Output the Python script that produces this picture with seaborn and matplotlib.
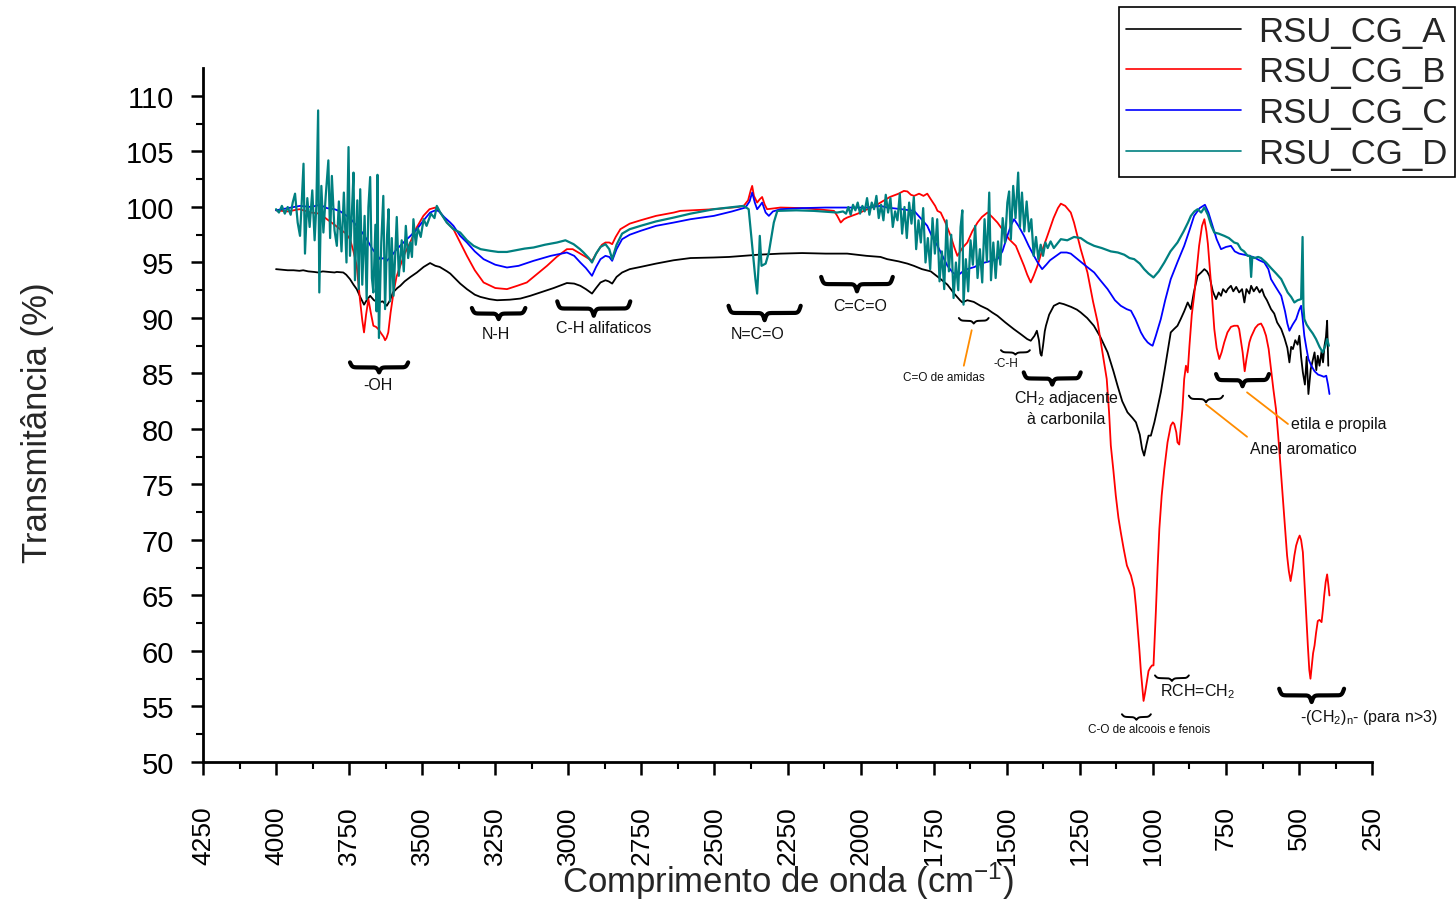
import numpy as np
import pandas as pd
import matplotlib
matplotlib.use("Agg")
import matplotlib.pyplot as plt
import seaborn as sns

# ---- data (wavenumber cm-1, transmittance %) ----
wn_a = [4000, 3980, 3960, 3940, 3920, 3907, 3890, 3870, 3856, 3840, 3820, 3800, 3792, 3770,
        3760, 3747, 3735, 3724, 3712, 3699, 3690, 3678, 3665, 3650, 3635, 3621, 3610, 3600,
        3585, 3575, 3560, 3540, 3518, 3495, 3473, 3455, 3440, 3415, 3404, 3370, 3347, 3320,
        3301, 3270, 3244, 3200, 3164, 3130, 3096, 3050, 3005, 2980, 2959, 2940, 2919, 2905,
        2890, 2873, 2862, 2850, 2835, 2816, 2790, 2753, 2700, 2640, 2582, 2503, 2450, 2400,
        2350, 2274, 2200, 2120, 2046, 1980, 1932, 1909, 1870, 1840, 1818, 1790, 1760, 1726,
        1703, 1680, 1660, 1652, 1635, 1613, 1590, 1566, 1550, 1532, 1505, 1476, 1450, 1430,
        1418, 1405, 1397, 1390, 1385, 1381, 1376, 1370, 1366, 1355, 1339, 1320, 1305, 1280,
        1260, 1247, 1225, 1202, 1180, 1155, 1135, 1121, 1105, 1087, 1070, 1058, 1045, 1037,
        1030, 1022, 1015, 1007, 995, 985, 973, 960, 950, 939, 928, 916, 905, 893, 881, 870,
        860, 847, 835, 824, 815, 807, 795, 784, 775, 767, 760, 750, 744, 733, 725, 715, 705,
        695, 687, 680, 670, 664, 655, 645, 635, 627, 619, 610, 596, 585, 575, 561, 550, 540,
        533, 527, 521, 513, 505, 499, 493, 487, 480, 474, 468, 460, 453, 447, 441, 436, 430,
        423, 418, 413, 408, 404, 400]
t_a = [94.4, 94.35, 94.3, 94.3, 94.25, 94.3, 94.2, 94.15, 94.1, 94.2, 94.15, 94.1, 94.15, 94.1,
       93.9, 93.5, 93.0, 92.6, 91.9, 91.2, 91.6, 92.0, 91.6, 91.4, 91.5, 91.1, 91.6, 92.3,
       92.7, 92.9, 93.3, 93.7, 94.1, 94.6, 94.95, 94.7, 94.6, 94.2, 94.0, 93.1, 92.6, 92.1,
       91.9, 91.7, 91.6, 91.65, 91.75, 92.0, 92.3, 92.7, 93.15, 93.1, 92.9, 92.6, 92.2, 92.7,
       93.2, 93.4, 93.3, 93.1, 93.7, 94.1, 94.4, 94.6, 94.9, 95.2, 95.4, 95.45, 95.5, 95.6,
       95.7, 95.8, 95.85, 95.8, 95.8, 95.6, 95.5, 95.3, 95.1, 94.9, 94.7, 94.4, 94.2, 93.5,
       93.0, 92.2, 91.6, 91.4, 91.6, 91.45, 91.1, 90.8, 90.5, 90.2, 89.6, 89.0, 88.5, 88.1,
       87.95, 88.4, 88.85, 88.0, 86.8, 86.6, 87.5, 88.8, 89.3, 90.3, 91.1, 91.35, 91.25, 91.0,
       90.75, 90.5, 90.0, 89.3, 88.3, 86.9, 85.2, 83.9, 82.5, 81.5, 81.0, 80.6, 79.5, 78.2,
       77.6, 78.6, 79.4, 79.4, 80.6, 81.8, 83.3, 85.3, 86.9, 88.7, 89.0, 89.3, 89.9, 90.6, 91.4, 90.8,
       92.3, 93.8, 94.1, 94.4, 94.2, 93.8, 92.4, 91.7, 92.3, 92.0, 92.6, 92.3, 92.6, 92.9, 92.4, 92.8, 92.3,
       92.6, 91.4, 92.6, 92.2, 92.9, 92.4, 92.8, 92.3, 92.6, 92.0, 91.6, 90.8, 90.4, 89.6, 89.0, 88.2, 87.3,
       86.0, 87.4, 87.2, 88.0, 87.6, 88.4, 86.5, 85.1, 84.0, 86.5, 83.15, 85.4, 86.2, 86.9, 85.3, 86.6, 85.7,
       87.0, 86.0, 87.5, 88.3, 89.75, 85.7]

wn_b = [4000, 3960, 3920, 3880, 3850, 3826, 3800, 3781, 3760, 3747, 3735, 3724, 3713, 3705,
        3699, 3692, 3684, 3676, 3667, 3658, 3650, 3640, 3632, 3627, 3622, 3616, 3608, 3598,
        3588, 3575, 3560, 3541, 3520, 3496, 3475, 3455, 3438, 3415, 3393, 3370, 3347, 3320,
        3290, 3250, 3210, 3175, 3142, 3110, 3073, 3040, 3005, 2985, 2959, 2940, 2919, 2900,
        2885, 2873, 2860, 2850, 2838, 2822, 2790, 2753, 2700, 2639, 2617, 2502, 2420, 2400,
        2385, 2376, 2371, 2365, 2354, 2345, 2337, 2328, 2320, 2274, 2200, 2150, 2091, 2080,
        2068, 2057, 2046, 2010, 1977, 1950, 1932, 1900, 1870, 1852, 1840, 1828, 1817, 1800,
        1785, 1772, 1760, 1745, 1737, 1726, 1710, 1692, 1680, 1669, 1652, 1635, 1618, 1600,
        1585, 1566, 1550, 1532, 1510, 1492, 1469, 1455, 1441, 1430, 1418, 1408, 1395, 1380,
        1361, 1340, 1325, 1315, 1300, 1281, 1270, 1247, 1224, 1205, 1189, 1170, 1158, 1150,
        1144, 1135, 1127, 1118, 1110, 1100, 1089, 1075, 1064, 1058, 1052, 1046, 1041, 1036,
        1032, 1027, 1021, 1015, 1009, 1003, 998, 994, 990, 984, 978, 970, 961, 950, 939, 932,
        927, 920, 916, 910, 905, 899, 893, 887, 881, 875, 867, 859, 850, 842, 832, 824, 817,
        812, 807, 798, 790, 782, 773, 765, 756, 745, 733, 722, 710, 705, 698, 693, 686, 680,
        670, 664, 650, 640, 630, 622, 613, 604, 596, 588, 579, 572, 567, 558, 550, 545, 541,
        535, 529, 522, 516, 510, 503, 498, 493, 487, 482, 476, 470, 465, 461, 457, 452, 447,
        442, 436, 430, 423, 418, 414, 409, 404, 400, 396]
t_b = [99.7, 99.6, 99.8, 99.5, 99.4, 98.9, 98.4, 98.0, 97.6, 97.1, 96.0, 94.7, 91.7, 89.8,
       88.7, 90.3, 91.7, 90.5, 89.3, 89.2, 89.0, 88.6, 88.3, 88.0, 88.2, 88.7, 90.5, 92.3,
       93.7, 94.7, 95.8, 96.8, 98.1, 99.2, 99.8, 99.95, 99.5, 98.6, 98.0, 96.8, 95.6, 94.3,
       93.2, 92.7, 92.6, 92.9, 93.2, 93.9, 94.7, 95.5, 96.2, 96.2, 95.8, 95.5, 95.15, 96.0,
       96.6, 96.8, 96.8, 96.65, 97.3, 98.0, 98.5, 98.8, 99.2, 99.5, 99.65, 99.8, 100.0, 100.1,
       100.6, 101.5, 101.9, 101.0, 100.4, 100.7, 100.9, 100.2, 99.8, 99.95, 99.9, 99.8, 99.65, 99.2,
       98.6, 98.9, 99.05, 99.4, 99.8, 100.1, 100.4, 100.9, 101.2, 101.45, 101.4, 101.1, 101.0, 101.2,
       101.0, 101.2, 100.7, 100.1, 99.65, 99.5, 98.6, 97.4, 96.4, 95.6, 96.3, 96.8, 97.8, 98.6,
       99.1, 99.5, 99.1, 98.6, 97.8, 97.1, 96.5, 95.6, 94.7, 93.9, 93.2, 93.8, 94.7, 96.0,
       97.4, 99.0, 99.9, 100.3, 100.1, 99.5, 98.6, 96.2, 94.1, 91.5, 89.6, 86.5, 84.5, 81.5,
       78.5, 76.2, 74.0, 72.0, 70.7, 69.2, 67.7, 66.8, 65.6, 64.0, 62.0, 60.0, 58.1, 56.6,
       55.5, 56.2, 57.2, 58.2, 58.5, 58.7, 58.7, 61.0, 63.5, 67.5, 71.0, 74.0, 76.4, 78.8, 80.3, 80.6,
       80.45, 79.7, 78.8, 78.6, 80.0, 81.8, 84.5, 85.7, 85.1, 87.5, 90.3, 92.0, 94.4, 96.5, 98.3, 98.9, 97.8,
       96.7, 95.0, 92.0, 89.0, 87.3, 86.3, 86.9, 87.8, 88.7, 89.2, 89.3, 89.3, 89.0, 87.8, 86.9, 85.2, 86.3,
       87.8, 88.3, 89.1, 89.4, 89.5, 89.1, 88.4, 87.2, 85.4, 83.6, 81.8, 79.6, 77.9, 74.7, 71.9, 70.0, 68.6,
       67.2, 66.3, 67.4, 68.6, 69.5, 70.1, 70.4, 70.0, 68.9, 66.5, 63.5, 60.5, 58.3, 57.5, 58.5, 59.8, 60.5,
       61.6, 62.7, 62.8, 62.6, 63.8, 65.0, 66.2, 66.9, 66.0, 65.0]

wn_c = [4000, 3960, 3918, 3880, 3850, 3826, 3800, 3780, 3758, 3740, 3724, 3705, 3690, 3670,
        3655, 3644, 3632, 3621, 3605, 3587, 3564, 3540, 3518, 3495, 3473, 3455, 3444, 3425,
        3404, 3393, 3370, 3347, 3320, 3290, 3250, 3210, 3170, 3119, 3060, 3005, 2980, 2959,
        2940, 2919, 2905, 2890, 2873, 2860, 2850, 2835, 2816, 2790, 2753, 2700, 2639, 2582,
        2502, 2440, 2394, 2380, 2371, 2362, 2354, 2345, 2337, 2325, 2314, 2300, 2274, 2200,
        2120, 2046, 1980, 1932, 1909, 1860, 1817, 1795, 1772, 1755, 1737, 1720, 1703, 1685,
        1669, 1650, 1635, 1610, 1589, 1560, 1532, 1515, 1498, 1485, 1475, 1460, 1441, 1425,
        1407, 1392, 1379, 1365, 1352, 1339, 1315, 1295, 1281, 1258, 1230, 1201, 1180, 1155,
        1130, 1110, 1090, 1075, 1060, 1041, 1030, 1018, 1008, 1001, 990, 973, 958, 939, 915,
        893, 875, 859, 840, 822, 810, 796, 782, 767, 750, 733, 720, 705, 687, 670, 653, 636,
        619, 605, 596, 580, 561, 548, 540, 533, 522, 510, 500, 493, 488, 482, 475, 468, 458,
        447, 435, 424, 415, 407, 401, 396]
t_c = [99.7, 99.9, 100.1, 100.0, 100.2, 99.9, 99.8, 99.6, 99.2, 98.8, 98.3, 97.7, 97.1, 96.2,
       95.7, 95.3, 95.4, 95.15, 95.6, 96.2, 96.8, 97.4, 98.0, 98.8, 99.5, 99.7, 99.65, 99.1,
       98.6, 98.3, 97.4, 96.8, 96.0, 95.3, 94.8, 94.55, 94.7, 95.15, 95.6, 95.9, 95.6, 95.0,
       94.5, 93.8, 94.6, 95.3, 95.6, 95.5, 95.15, 96.2, 97.1, 97.5, 97.85, 98.3, 98.6, 98.9,
       99.2, 99.6, 99.95, 100.5, 101.3, 100.4, 99.8, 100.1, 100.4, 99.5, 99.2, 99.6, 99.8, 99.9,
       99.95, 99.95, 99.95, 100.1, 99.95, 99.8, 99.65, 99.0, 98.3, 97.3, 96.5, 95.6, 94.7, 94.1,
       93.8, 94.2, 94.4, 94.6, 94.9, 95.1, 95.3, 96.0, 97.4, 98.4, 98.9, 98.3, 97.4, 96.5,
       95.6, 94.9, 94.4, 94.8, 95.2, 95.45, 95.9, 95.9, 95.8, 95.3, 94.7, 94.1, 93.4, 92.6,
       91.6, 91.1, 90.8, 90.65, 89.9, 88.7, 88.2, 87.8, 87.6, 87.5, 88.4, 89.9, 91.6, 93.5, 95.1,
       96.5, 97.9, 99.2, 99.9, 100.2, 99.5, 98.3, 97.1, 96.2, 96.4, 96.5, 96.0, 95.8, 95.7, 95.6, 95.45, 95.2,
       95.0, 94.4, 93.5, 92.8, 92.0, 90.6, 89.5, 88.85, 89.4, 89.9, 90.7, 91.1, 90.0, 88.4, 87.3, 86.3, 85.7,
       85.2, 84.9, 84.8, 84.7, 84.8, 84.0, 83.15]

wn_d = [4000, 3990, 3980, 3970, 3960, 3950, 3943, 3935, 3926, 3918, 3912, 3906, 3901, 3893,
        3885, 3876, 3868, 3862, 3856, 3852, 3845, 3838, 3830, 3821, 3815, 3809, 3800, 3792,
        3785, 3776, 3768, 3759, 3752, 3747, 3740, 3735, 3730, 3722, 3717, 3712, 3705, 3697,
        3690, 3684, 3678, 3672, 3667, 3660, 3656, 3653, 3648, 3640, 3633, 3627, 3620, 3615,
        3610, 3604, 3598, 3592, 3587, 3580, 3570, 3563, 3556, 3548, 3541, 3535, 3530, 3522,
        3515, 3505, 3495, 3485, 3470, 3458, 3450, 3438, 3416, 3393, 3370, 3347, 3324, 3300,
        3267, 3240, 3210, 3180, 3150, 3119, 3080, 3039, 3010, 2982, 2960, 2948, 2930, 2919,
        2905, 2890, 2873, 2860, 2850, 2835, 2816, 2790, 2753, 2700, 2639, 2582, 2502, 2400,
        2383, 2371, 2360, 2354, 2348, 2345, 2339, 2325, 2314, 2297, 2285, 2220, 2160, 2080,
        2060, 2050, 2042, 2034, 2026, 2018, 2010, 2002, 1994, 1986, 1978, 1970, 1962, 1954,
        1946, 1938, 1930, 1922, 1914, 1906, 1898, 1890, 1882, 1874, 1866, 1858, 1850, 1842,
        1834, 1826, 1818, 1810, 1802, 1794, 1786, 1778, 1770, 1762, 1754, 1746, 1738, 1730,
        1722, 1714, 1706, 1698, 1690, 1682, 1674, 1666, 1658, 1652, 1648, 1640, 1632, 1624,
        1616, 1608, 1600, 1592, 1584, 1576, 1568, 1560, 1554, 1546, 1538, 1530, 1522, 1514,
        1506, 1498, 1492, 1486, 1478, 1470, 1461, 1455, 1448, 1440, 1432, 1424, 1416, 1408,
        1400, 1392, 1384, 1376, 1368, 1360, 1350, 1339, 1315, 1293, 1270, 1247, 1225, 1201,
        1175, 1144, 1120, 1098, 1080, 1064, 1045, 1030, 1015, 998, 980, 961, 940, 916, 895,
        880, 870, 858, 847, 835, 824, 812, 800, 790, 775, 756, 740, 722, 710, 699, 688, 676,
        668, 664, 660, 653, 640, 630, 613, 596, 578, 561, 550, 539, 527, 516, 505, 493, 488,
        485, 482, 474, 464, 453, 442, 430, 419, 410, 404, 398]
t_d = [99.8, 99.5, 100.1, 99.4, 100.0, 99.3, 100.4, 101.2, 98.6, 97.4, 100.5, 103.9, 95.8, 100.8,
       98.2, 101.5, 97.0, 100.2, 108.7, 92.3, 101.9, 97.7, 101.0, 104.2, 97.2, 102.8, 97.9, 96.5,
       100.5, 96.0, 101.3, 95.0, 105.4, 95.6, 99.8, 103.1, 93.4, 100.6, 92.6, 101.6, 93.0, 99.2,
       91.7, 100.0, 102.7, 93.6, 92.3, 98.4, 90.6, 102.9, 88.2, 96.8, 101.0, 90.8, 97.5, 99.8,
       91.5, 97.2, 92.0, 96.0, 99.1, 93.8, 97.0, 94.2, 98.3, 95.4, 96.8, 95.5, 98.9, 96.6,
       98.1, 97.3, 98.9, 98.3, 99.4, 99.0, 100.1, 99.5, 98.6, 98.0, 97.7, 97.0, 96.5, 96.2,
       96.05, 95.95, 95.95, 96.1, 96.25, 96.35, 96.6, 96.8, 97.0, 96.65, 96.2, 95.9, 95.4, 95.0,
       95.8, 96.4, 96.65, 96.2, 95.3, 96.6, 97.6, 98.0, 98.3, 98.7, 99.05, 99.4, 99.8, 100.1,
       99.8, 96.5, 93.5, 92.2, 95.3, 97.4, 94.7, 94.9, 95.9, 98.6, 99.65, 99.7, 99.65, 99.5,
       99.6, 99.4, 100.0, 99.3, 100.2, 99.7, 100.4, 99.4, 100.1, 99.6, 100.8, 99.3, 100.4, 99.8,
       101.0, 99.0, 100.2, 98.8, 101.1, 99.5, 100.8, 98.2, 99.6, 98.8, 101.2, 97.6, 100.0, 97.2,
       100.4, 98.5, 100.9, 96.2, 98.8, 96.8, 99.9, 95.0, 97.2, 94.4, 99.0, 95.8, 98.9, 93.3,
       96.0, 92.6, 98.8, 94.2, 97.5, 91.8, 95.0, 92.5, 98.2, 99.7, 91.2, 95.3, 92.4, 97.0,
       94.8, 98.3, 93.6, 96.2, 93.2, 98.9, 95.1, 101.3, 93.4, 96.8, 93.6, 96.9, 94.8, 99.0,
       96.8, 100.4, 101.4, 97.1, 101.9, 99.0, 103.1, 98.2, 101.3, 97.8, 100.5, 97.8, 98.9, 95.6,
       97.3, 95.3, 96.6, 95.6, 96.8, 96.3, 96.9, 96.3, 97.1, 97.0, 97.3, 97.2, 96.8, 96.5,
       96.3, 96.0, 95.9, 95.7, 95.4, 95.3, 94.9, 94.4, 94.0, 93.65, 94.2, 95.0, 96.0, 96.8, 97.8,
       98.6, 99.2, 99.6, 99.8, 99.5, 99.95, 99.3, 98.3, 97.7, 97.6, 97.4, 97.2, 96.8, 96.7, 96.2, 96.0, 95.6,
       95.6, 93.7, 95.5, 95.4, 95.5, 95.4, 95.0, 94.5, 94.0, 93.5, 92.9, 92.3, 91.9, 91.4, 91.6, 91.7, 97.3,
       91.0, 89.9, 89.4, 89.0, 88.6, 88.1, 87.4, 86.9, 87.5, 88.1, 87.5]

samples = ["RSU_CG_A", "RSU_CG_B", "RSU_CG_C", "RSU_CG_D"]
series_wn = [wn_a, wn_b, wn_c, wn_d]
series_t = [t_a, t_b, t_c, t_d]
colors = ["black", "#FF0000", "#0000FF", "#008080"]
widths = [1.3, 1.3, 1.3, 1.6]

x_ticks = list(range(4250, 249, -250))
y_ticks = list(range(50, 111, 5))

# annotation braces: (x start, x end, y top, depth, label, label x, label y, fontsize, bold)
braces = [
    (3747, 3548, 86.0, 0.9, "-OH", 3651, 84.0, 11.5, True),
    (3330, 3147, 90.9, 1.0, "N-H", 3247, 88.6, 11.5, True),
    (3038, 2788, 91.5, 1.3, "C-H alifaticos", 2880, 89.1, 11.5, True),
    (2452, 2205, 91.1, 1.3, "N=C=O", 2353, 88.6, 11.5, True),
    (2135, 1890, 93.7, 1.3, "C=C=O", 2000, 91.1, 11.5, True),
    (1664, 1562, 90.0, 0.5, None, 0, 0, 0, False),
    (1520, 1421, 87.1, 0.4, "-C-H", 1504, 85.9, 8.5, False),
    (1442, 1247, 85.1, 1.1, "CH$_2$ adjacente\nà carbonila", 1297, 82.0, 11.5, True),
    (877, 760, 83.0, 0.6, None, 0, 0, 0, False),
    (784, 603, 84.95, 1.1, None, 0, 0, 0, True),
    (993, 877, 57.8, 0.5, "RCH=CH$_2$", 846, 56.4, 11.5, False),
    (1106, 1007, 54.3, 0.5, "C-O de alcoois e fenois", 1014, 53.0, 8.5, False),
    (568, 346, 56.6, 1.2, "-(CH$_2$)$_n$- (para n>3)", 262, 54.1, 11.5, True),
]
# leader lines (orange) with their labels: (x0, y0, x1, y1, label, lx, ly, fontsize)
leaders = [
    (1620, 88.9, 1647, 85.7, "C=O de amidas", 1716, 84.7, 8.5),
    (818, 82.2, 678, 79.3, "Anel aromatico", 486, 78.2, 11.5),
    (678, 83.3, 538, 80.45, "etila e propila", 363, 80.45, 11.5),
]

sns.set_theme(style="ticks")
plt.rcParams['font.family'] = ['Liberation Sans', 'DejaVu Sans']
plt.rcParams['mathtext.default'] = 'regular'

fig = plt.figure(figsize=(14.56, 9.04), dpi=100)
ax = fig.add_axes([0.1394, 0.156, 0.803, 0.7674])

for name, wn, t, c, lw in zip(samples, series_wn, series_t, colors, widths):
    df = pd.DataFrame({"wn": wn, "T": t})
    sns.lineplot(data=df, x="wn", y="T", ax=ax, color=c, linewidth=lw,
                 estimator=None, sort=False, label=name, legend=False)


def brace(ax, xa, xb, ytop, depth, lw):
    # horizontal curly brace, tip pointing down
    width_px = abs(xb - xa) / 3.4247
    beta = 0.9 * width_px
    u = np.linspace(0, 0.5, 200)
    half = 1 / (1 + np.exp(-beta * u)) + 1 / (1 + np.exp(-beta * (u - 0.5)))
    yy = np.concatenate([half, half[-2::-1]]) - 0.5
    uu = np.linspace(0, 1, yy.size)
    xs = xa + (xb - xa) * uu
    ys = ytop - depth * yy
    ax.plot(xs, ys, color="black", lw=lw, solid_capstyle="round")


for xa, xb, yt, dp, lab, lx, ly, fs, bold in braces:
    brace(ax, xa, xb, yt, dp, 3.0 if bold else 1.4)
    if lab:
        ax.text(lx, ly, lab, ha="center", va="center", fontsize=fs, color="#111111",
                linespacing=1.3)

for x0, y0, x1, y1, lab, lx, ly, fs in leaders:
    ax.plot([x0, x1], [y0, y1], color="#FF8C00", lw=1.3)
    ax.text(lx, ly, lab, ha="center", va="center", fontsize=fs, color="#111111")

ax.set_xlim(4250, 250)
ax.set_ylim(50, 112.5)
ax.set_xticks(x_ticks)
ax.set_xticklabels([str(v) for v in x_ticks], rotation=90, fontsize=19)
ax.set_xticks(np.arange(4125, 250, -250), minor=True)
ax.set_yticks(y_ticks)
ax.set_yticklabels([str(v) for v in y_ticks], fontsize=21)
ax.set_yticks(np.arange(52.5, 112.5, 5), minor=True)
ax.tick_params(axis="both", which="major", direction="out", length=9, width=1.8,
               color="black", labelcolor="black")
ax.tick_params(axis="x", which="major", pad=22)
ax.tick_params(axis="y", which="major", pad=12)
ax.tick_params(axis="both", which="minor", direction="out", length=5, width=1.5, color="black")

sns.despine(ax=ax)
for s in ["left", "bottom"]:
    ax.spines[s].set_linewidth(2)
    ax.spines[s].set_color("black")

xl = ax.set_xlabel("Comprimento de onda (cm$^{-1}$)", fontsize=25)
xl.set_verticalalignment("baseline")
ax.xaxis.set_label_coords(0.5, -0.1874)
ax.set_ylabel("Transmitância (%)", fontsize=25)
ax.yaxis.set_label_coords(-0.127, 0.49)
ax.grid(False)

handles = ax.get_lines()[:4]
leg = fig.legend(handles, samples, loc="upper right", bbox_to_anchor=(0.9995, 0.991),
                 fontsize=25, frameon=True, fancybox=False, framealpha=1,
                 edgecolor="black", handlelength=3.3, labelspacing=0.22,
                 borderpad=0.22, handletextpad=0.5, borderaxespad=0)
leg.get_frame().set_linewidth(1.2)
for h in leg.legend_handles:
    h.set_linewidth(1.2)

fig.savefig("out.png", dpi=100)
